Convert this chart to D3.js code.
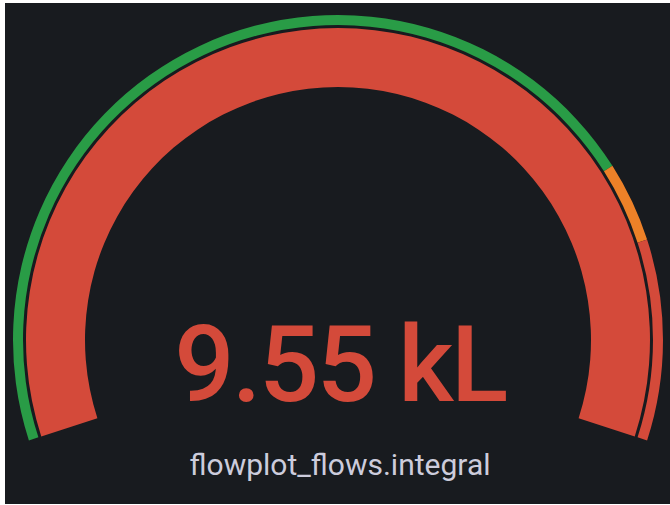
<!DOCTYPE html>
<html>
<head>
<meta charset="utf-8">
<script src="https://cdn.jsdelivr.net/npm/d3@7"></script>
<style>
  html, body { margin: 0; padding: 0; background: #ffffff; }
  svg { display: block; }
</style>
</head>
<body>
<svg id="chart" width="670" height="505"></svg>
<script>
// gauge data
var fieldName = 'flowplot_flows.integral';
var gaugeValue = 9550;           // litres
var displayText = '9.55 kL';
var gaugeMin = 0;
var gaugeMax = 6000;
var thresholdSteps = [0, 4600, 5000];
var thresholdColors = ['#299c46', '#ed8128', '#d44a3a'];

var width = 670, height = 505;
var panel = {x: 5, y: 3, w: 665, h: 501};
var cx = 338, cy = 340;
var outerR = 325, bandWidth = 10, gap = 3, innerR = 253;
var span = 108 * Math.PI / 180;

var svg = d3.select('#chart');

svg.append('rect')
  .attr('x', panel.x).attr('y', panel.y)
  .attr('width', panel.w).attr('height', panel.h)
  .attr('fill', '#181b1f');

var angle = d3.scaleLinear()
  .domain([gaugeMin, gaugeMax])
  .range([-span, span])
  .clamp(true);

var g = svg.append('g')
  .attr('transform', 'translate(' + [cx, cy] + ')');

// threshold band
var bands = thresholdSteps.map(function(s, i) {
  return {
    from: s,
    to: i < thresholdSteps.length - 1 ? thresholdSteps[i + 1] : gaugeMax,
    color: thresholdColors[i]
  };
});

var bandArc = d3.arc()
  .innerRadius(outerR - bandWidth)
  .outerRadius(outerR)
  .startAngle(function(d) { return angle(d.from); })
  .endAngle(function(d) { return angle(d.to); });

g.selectAll('path.band')
  .data(bands)
  .enter().append('path')
  .attr('class', 'band')
  .attr('d', bandArc)
  .attr('fill', function(d) { return d.color; });

// value arc, coloured by the step it falls in
var valueColor = thresholdColors[d3.bisectRight(thresholdSteps, gaugeValue) - 1];

var valueArc = d3.arc()
  .innerRadius(innerR)
  .outerRadius(outerR - bandWidth - gap)
  .startAngle(angle(gaugeMin))
  .endAngle(angle(gaugeValue));

g.append('path')
  .attr('d', valueArc())
  .attr('fill', valueColor);

// value text
svg.append('text')
  .attr('x', 340)
  .attr('y', 401)
  .attr('text-anchor', 'middle')
  .attr('font-family', 'Roboto')
  .attr('font-weight', 500)
  .attr('font-size', 106)
  .attr('letter-spacing', -2.5)
  .attr('fill', valueColor)
  .text(displayText);

// field name
svg.append('text')
  .attr('x', 340)
  .attr('y', 475)
  .attr('text-anchor', 'middle')
  .attr('font-family', 'Roboto')
  .attr('font-size', 30)
  .attr('fill', '#ccccdc')
  .text(fieldName);
</script>
</body>
</html>
